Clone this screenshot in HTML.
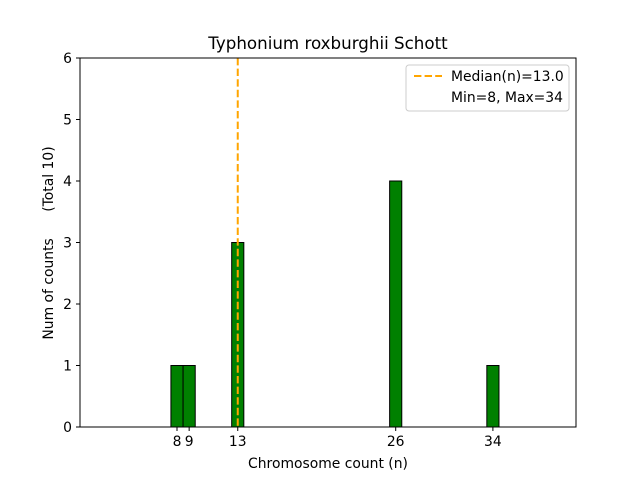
<!DOCTYPE html>
<html><head><meta charset="utf-8"><style>body{margin:0;background:#fff}svg{display:block;font-family:"DejaVu Sans","Liberation Sans",sans-serif}</style></head>
<body>
<svg id="chart" width="640" height="480">
<rect width="640" height="480" fill="#fff"/>
<text x="328" y="49" font-size="16.7" text-anchor="middle">Typhonium roxburghii Schott</text>
<g id="bars"></g>
<g id="xticks"></g>
<g id="yticks"></g>
<line id="median" stroke="#ffa500" stroke-width="2" stroke-dasharray="7.4,3.2"/>
<rect x="80" y="58" width="496" height="369" fill="none" stroke="#000" stroke-width="1"/>
<text x="328" y="468" font-size="13.9" text-anchor="middle">Chromosome count (n)</text>
<text transform="translate(53,243) rotate(-90)" font-size="13.9" text-anchor="middle" style="white-space:pre" xml:space="preserve">Num of counts      (Total 10)</text>
<g>
<rect x="406" y="65" width="163" height="46" rx="3" fill="#fff" stroke="#ccc"/>
<line x1="414" y1="76" x2="442" y2="76" stroke="#ffa500" stroke-width="2" stroke-dasharray="7.4,3.2"/>
<text x="451" y="81" font-size="13.9">Median(n)=13.0</text>
<text x="451" y="102" font-size="13.9">Min=8, Max=34</text>
</g>
</svg>
<script>
const categories=[8,9,13,26,34];
const counts=[1,1,3,4,1];
const xTicks=[8,9,13,26,34];
const yTicks=[0,1,2,3,4,5,6];
const medianValue=13.0;
const NS="http://www.w3.org/2000/svg";
const x=v=>177+(v-8)*12.15;
const y=v=>427-v*61.5;
const bars=document.getElementById('bars');
const base=document.createElementNS(NS,'line');
base.setAttribute('x1',80);base.setAttribute('x2',x(37.5));base.setAttribute('y1',427);base.setAttribute('y2',427);base.setAttribute('stroke','#000');


bars.appendChild(base);
categories.forEach((c,i)=>{
const r=document.createElementNS(NS,'rect');
r.setAttribute('x',x(c-0.5));r.setAttribute('width',x(c+0.5)-x(c-0.5));
r.setAttribute('y',y(counts[i]));r.setAttribute('height',y(0)-y(counts[i]));
r.setAttribute('fill','#008000');r.setAttribute('stroke','#000');


bars.appendChild(r);
});
const xt=document.getElementById('xticks');
xTicks.forEach(t=>{
const l=document.createElementNS(NS,'line');
l.setAttribute('x1',x(t));l.setAttribute('x2',x(t));l.setAttribute('y1',427);l.setAttribute('y2',431);l.setAttribute('stroke','#000');


xt.appendChild(l);
const s=document.createElementNS(NS,'text');
s.setAttribute('x',x(t));s.setAttribute('y',446);s.setAttribute('font-size','13.9');s.setAttribute('text-anchor','middle');
s.textContent=t;


xt.appendChild(s);
});
const yt=document.getElementById('yticks');
yTicks.forEach(t=>{
const l=document.createElementNS(NS,'line');
l.setAttribute('x1',76);l.setAttribute('x2',80);l.setAttribute('y1',y(t));l.setAttribute('y2',y(t));l.setAttribute('stroke','#000');


yt.appendChild(l);
const s=document.createElementNS(NS,'text');
s.setAttribute('x',72);s.setAttribute('y',y(t)+5);s.setAttribute('font-size','13.9');s.setAttribute('text-anchor','end');
s.textContent=t;


yt.appendChild(s);
});
const m=document.getElementById('median');
m.setAttribute('x1',x(medianValue));m.setAttribute('x2',x(medianValue));m.setAttribute('y1',y(6));m.setAttribute('y2',y(0));
</script>
</body></html>
